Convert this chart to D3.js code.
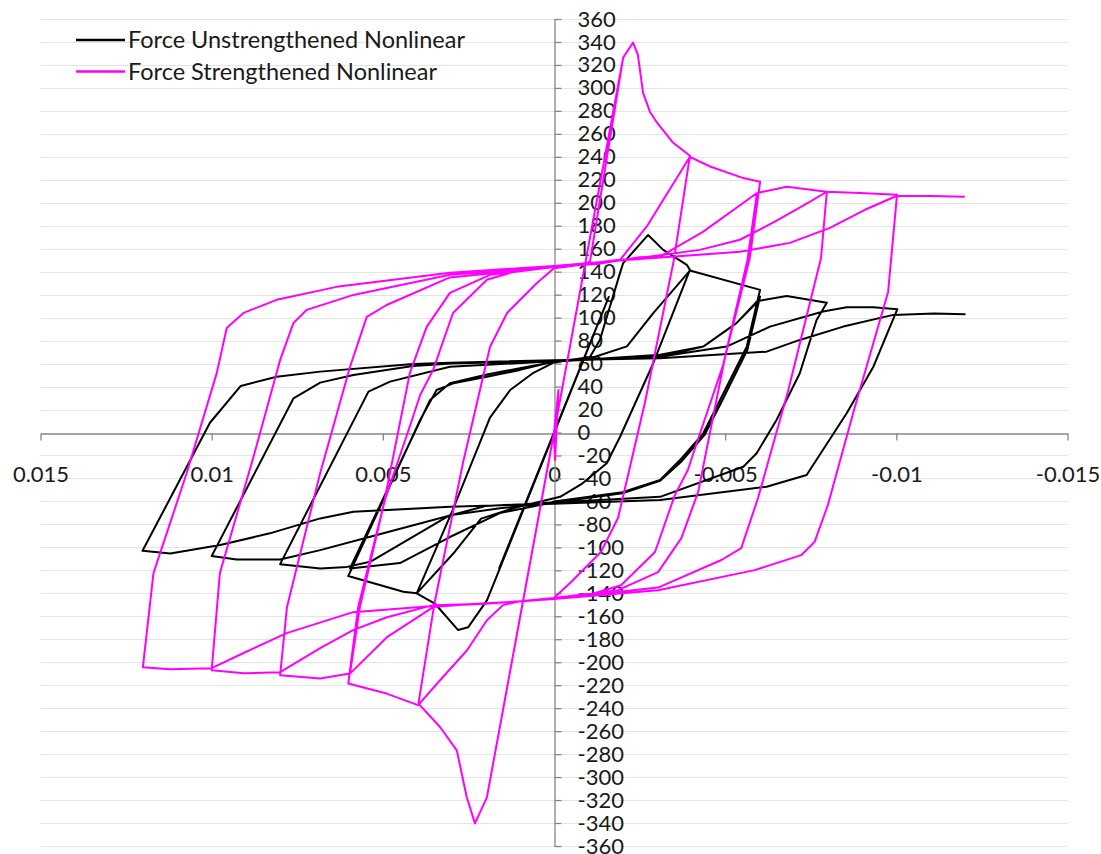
<!DOCTYPE html>
<html>
<head>
<meta charset="utf-8">
<script src="https://cdn.jsdelivr.net/npm/d3@7"></script>
<style>
  body { margin: 0; background: #ffffff; }
  svg text { font-family: Lato, "Open Sans", sans-serif; fill: #1a1a1a; }
</style>
</head>
<body>
<svg id="chart" width="1101" height="854"></svg>
<script>
// Series names as shown in the legend
const seriesNames = ["Force Unstrengthened Nonlinear", "Force Strengthened Nonlinear"];
const seriesColors = ["#000000", "#ff00ff"];
const legendTextWidths = [337, 309];

// Axis ticks
const xTicks = [0.015, 0.01, 0.005, 0, -0.005, -0.01, -0.015];
const xTickLabels = ["0.015", "0.01", "0.005", "0", "-0.005", "-0.01", "-0.015"];
const yTicks = [360, 340, 320, 300, 280, 260, 240, 220, 200, 180, 160, 140, 120, 100, 80, 60, 40, 20, 0,
  -20, -40, -60, -80, -100, -120, -140, -160, -180, -200, -220, -240, -260, -280, -300, -320, -340, -360];

// Hysteresis loop of the unstrengthened wall: [drift strain, force]
const forceUnstrengthened = [
  [0, 0],
  [0.0016, -118],
  [-0.0016, 118],
  [0.00172, -128.6], [0.00196, -146.2], [0.00251, -169.6], [0.0028, -172], [0.00348, -148.9], [0.00401, -140],
  [0.00296, -67.5], [0.00187, 13], [0.00128, 37], [0.0006, 52], [0, 61], [-0.00105, 65.8],
  [-0.00134, 80.6], [-0.00193, 139], [-0.00202, 147.5], [-0.00275, 172], [-0.00319, 159], [-0.00388, 146], [-0.00397, 141.6],
  [-0.0029, 60.3], [-0.00193, -3.7], [-0.00154, -26.8], [-0.0008, -45], [-0.00018, -56], [0.0012, -66],
  [0.00213, -75], [0.0029, -104], [0.00401, -140], [0.0044, -138.7], [0.00601, -125],
  [0.00391, 10.9], [0.00343, 37], [0.00294, 42.8], [0.00196, 48.6], [0.00099, 54.5], [0, 61.7], [-0.0012, 66],
  [-0.00213, 75], [-0.0029, 104], [-0.00397, 141], [-0.00602, 124.2],
  [-0.00563, 74.8], [-0.00485, 28.3], [-0.00436, -0.7], [-0.00368, -24], [-0.0031, -41.4], [-0.002, -52], [0, -60], [0.00012, -61.4],
  [0.00158, -70.2], [0.00304, -91], [0.0045, -113.7], [0.00596, -118.3],
  [0.00362, 28.3], [0.00304, 42.9], [0.00196, 50.5], [0.001, 56], [0, 61.5], [-0.0031, 67.6],
  [-0.00436, 74.8], [-0.00533, 95.2], [-0.00597, 115.5], [-0.00602, 118.3],
  [-0.00565, 72], [-0.0049, 27], [-0.0044, -2], [-0.0037, -26], [-0.0031, -42], [-0.002, -53], [0, -61], [0.00158, -66],
  [0.00304, -72], [0.00537, -112.6], [0.00605, -117], [0.00683, -118.3], [0.008, -114.6],
  [0.00542, 35.6], [0.00479, 44.3], [0.00304, 57.3], [0, 62], [-0.0031, 66],
  [-0.00436, 74.8], [-0.00533, 95.2], [-0.00597, 114.5], [-0.0068, 118.9], [-0.00797, 113],
  [-0.00767, 98], [-0.00718, 51.6], [-0.0065, 10.9], [-0.00592, -18], [-0.00553, -29.8], [-0.0031, -56], [0, -61], [0.002, -64],
  [0.00537, -90.8], [0.00683, -102.4], [0.008, -110.5], [0.00927, -110.5], [0.01, -107.6],
  [0.00761, 29.8], [0.00683, 43.4], [0.00586, 50.1], [0.00412, 57.9], [0.003, 60], [0, 62.5], [-0.0031, 66],
  [-0.00504, 74.8], [-0.00631, 92.2], [-0.00786, 105.3], [-0.00855, 109.1], [-0.00933, 109.1], [-0.01003, 107.4],
  [-0.00933, 57.3], [-0.00855, 16.7], [-0.00738, -37], [-0.00621, -47.2], [-0.0031, -58.8], [0, -62], [0.00304, -64.7],
  [0.00586, -69], [0.00683, -74.8], [0.0083, -87.8], [0.00975, -98], [0.01121, -105.3], [0.01202, -103],
  [0.01005, 8.5], [0.00915, 40.5], [0.0081, 48.6], [0.00683, 53], [0.00412, 59.7], [0.00304, 60.8], [0, 63], [-0.0031, 64.7],
  [-0.00621, 70.4], [-0.00718, 80.6], [-0.00845, 92.2], [-0.00991, 102.4], [-0.0111, 103.6], [-0.01202, 103]
];

// Hysteresis loop of the strengthened wall: [drift strain, force]
const forceStrengthened = [
  [0, 0], [-0.00013, 37], [-0.00003, -24], [0, 0],
  [0.00196, -317.6],
  [-0.00202, 326.4],
  [0.00196, -317.6], [0.00231, -340.3], [0.00255, -317.4], [0.00284, -276.7], [0.00333, -256.4], [0.00396, -236],
  [0.0035, -150], [0.00266, -26.6], [0.00187, 74.5], [0.00137, 104.1], [0.0005, 130.2], [0, 143], [-0.0008, 146], [-0.00105, 148.6],
  [-0.00202, 326.4], [-0.00231, 339.5], [-0.00245, 329], [-0.0026, 295.9], [-0.0028, 279.3], [-0.00301, 269.7], [-0.00348, 252.2], [-0.00397, 240.9],
  [-0.0035, 150], [-0.00266, 26.6], [-0.00187, -74.5], [-0.00137, -104.1], [-0.0005, -130.2], [0, -144], [0.001, -147],
  [0.00149, -150.3], [0.00196, -163.4], [0.00254, -189.6], [0.00333, -215.7], [0.00397, -237.3], [0.00489, -227.3], [0.00601, -218.6],
  [0.00572, -152], [0.00494, -58.8], [0.00415, 10.9], [0.00391, 32.7], [0.00353, 54.5], [0.00295, 104], [0.00196, 133], [0.00099, 141.6], [0, 144], [-0.001, 147],
  [-0.00154, 149], [-0.00193, 150.3], [-0.00271, 179.4], [-0.00397, 240], [-0.00456, 231.6], [-0.00553, 221.5], [-0.00602, 218.3],
  [-0.00572, 152], [-0.00499, 64.9], [-0.00421, -51.9], [-0.00372, -92], [-0.00304, -121.6], [-0.00187, -137.3], [0, -144], [0.001, -147], [0.0025, -149.6],
  [0.00353, -152], [0.00488, -178.2], [0.00596, -209.9],
  [0.00567, -152], [0.00499, -64.9], [0.00421, 51.9], [0.00372, 92], [0.00304, 121.6], [0.00187, 137.3], [0, 144], [-0.0013, 147],
  [-0.0025, 152.6], [-0.0031, 153.2], [-0.00435, 174.7], [-0.00593, 208.5],
  [-0.00565, 150], [-0.00494, 58.8], [-0.00415, -10.9], [-0.00391, -32.7], [-0.00353, -54.5], [-0.00295, -104], [-0.00196, -133], [-0.00099, -141.6], [0, -145], [0.001, -147], [0.0025, -149.6],
  [0.00353, -152], [0.00488, -178.2], [0.00596, -209.9], [0.00683, -214.2], [0.008, -211.3],
  [0.0078, -152], [0.00683, -35.3], [0.00596, 57], [0.00547, 100.7], [0.00489, 111], [0.00304, 135], [0, 144], [-0.0013, 147],
  [-0.0025, 152.6], [-0.0031, 153.2], [-0.00435, 174.7], [-0.00593, 208.5], [-0.0068, 213.9], [-0.00797, 209.6],
  [-0.0078, 152], [-0.00683, 35.3], [-0.00596, -57], [-0.00547, -100.7], [-0.00489, -111], [-0.00304, -135], [0, -145], [0.002, -149], [0.00353, -150.3],
  [0.00488, -160.8], [0.00587, -172.1], [0.00683, -187.8], [0.008, -208.7], [0.00905, -209.6], [0.01, -207],
  [0.00976, -122.4], [0.00878, -21.4], [0.008, 63.2], [0.00761, 95.4], [0.00722, 106.8], [0.00586, 119.8], [0.00304, 137.3], [0, 144], [-0.002, 150], [-0.00426, 159],
  [-0.00543, 167.8], [-0.00645, 183.5], [-0.00733, 198.3], [-0.00797, 209.6], [-0.00894, 208.6], [-0.01002, 206.9],
  [-0.00976, 122.4], [-0.00878, 21.4], [-0.008, -63.2], [-0.00761, -95.4], [-0.00722, -106.8], [-0.00586, -119.8], [-0.00304, -137.3], [0, -145], [0.002, -149], [0.00353, -151],
  [0.00587, -156.4], [0.00781, -174.7], [0.00902, -191.3], [0.01, -205.2], [0.01121, -206.1], [0.01201, -204.4],
  [0.0117, -122.4], [0.01073, -35.3], [0.00985, 51.9], [0.00956, 91], [0.00907, 104.1], [0.0081, 115.5], [0.00635, 126.8], [0.00304, 139], [0, 145], [-0.002, 150], [-0.00543, 157.3],
  [-0.00689, 165.1], [-0.00806, 178.2], [-0.00908, 193.9], [-0.01002, 206.1], [-0.011, 206], [-0.012, 205.2]
];

const svg = d3.select("#chart");

// Drift axis runs from positive on the left to negative on the right
const x = d3.scaleLinear().domain([0.015, -0.015]).range([40.5, 1067.5]);
const y = d3.scaleLinear().domain([360, -360]).range([19, 846]);

const crisp = v => Math.round(v) + 0.5;

// Horizontal gridlines
svg.append("g")
  .selectAll("line")
  .data(yTicks.filter(d => d !== 0))
  .join("line")
  .attr("x1", x(0.015))
  .attr("x2", x(-0.015))
  .attr("y1", d => crisp(y(d)))
  .attr("y2", d => crisp(y(d)))
  .attr("stroke", "#e4e4e4")
  .attr("stroke-width", 1);

// Horizontal (drift) axis through zero force
const xAxisG = svg.append("g")
  .attr("transform", `translate(0,${crisp(y(0))})`)
  .call(d3.axisBottom(x)
    .tickValues(xTicks)
    .tickFormat((d, i) => xTickLabels[i])
    .tickSize(7)
    .tickSizeOuter(0)
    .tickPadding(26));

// Vertical (force) axis through zero drift
const yAxisG = svg.append("g")
  .attr("transform", `translate(${crisp(x(0))},0)`)
  .call(d3.axisRight(y)
    .tickValues(yTicks)
    .tickFormat(d => String(d))
    .tickSize(7)
    .tickSizeOuter(0)
    .tickPadding(16));

[xAxisG, yAxisG].forEach(g => {
  g.select(".domain").attr("stroke", "#868686").attr("stroke-width", 1.3);
  g.selectAll(".tick line").attr("stroke", "#868686").attr("stroke-width", 1.3);
  g.selectAll(".tick text")
    .attr("fill", "#1a1a1a")
    .style("font-family", "Lato, 'Open Sans', sans-serif")
    .style("font-size", "22px");
});

// Hysteresis curves
const line = d3.line()
  .x(d => x(d[0]))
  .y(d => y(d[1]))
  .curve(d3.curveLinear);

const series = [forceUnstrengthened, forceStrengthened];
svg.append("g")
  .selectAll("path")
  .data(series)
  .join("path")
  .attr("d", line)
  .attr("fill", "none")
  .attr("stroke", (d, i) => seriesColors[i])
  .attr("stroke-width", 2)
  .attr("stroke-linejoin", "round");

// Legend
const legend = svg.append("g");
const legendRows = legend.selectAll("g")
  .data(seriesNames)
  .join("g")
  .attr("transform", (d, i) => `translate(0,${40 + i * 31.5})`);

legendRows.append("line")
  .attr("x1", 76)
  .attr("x2", 125)
  .attr("y1", 0)
  .attr("y2", 0)
  .attr("stroke", (d, i) => seriesColors[i])
  .attr("stroke-width", 2.5);

legendRows.append("text")
  .attr("x", 128)
  .attr("y", 0)
  .attr("dy", "0.36em")
  .attr("textLength", (d, i) => legendTextWidths[i])
  .attr("lengthAdjust", "spacingAndGlyphs")
  .style("font-size", "23px")
  .text(d => d);
</script>
</body>
</html>
